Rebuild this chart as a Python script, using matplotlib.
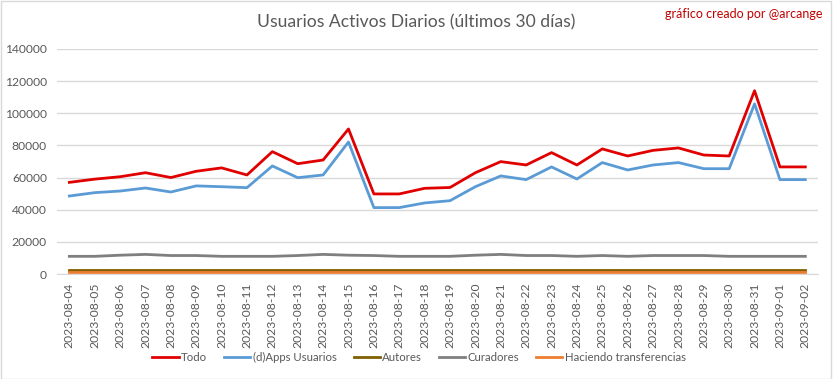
import matplotlib.pyplot as plt
import numpy as np

# Fechas del eje X (últimos 30 días)
fechas = ['2023-08-04', '2023-08-05', '2023-08-06', '2023-08-07', '2023-08-08',
          '2023-08-09', '2023-08-10', '2023-08-11', '2023-08-12', '2023-08-13',
          '2023-08-14', '2023-08-15', '2023-08-16', '2023-08-17', '2023-08-18',
          '2023-08-19', '2023-08-20', '2023-08-21', '2023-08-22', '2023-08-23',
          '2023-08-24', '2023-08-25', '2023-08-26', '2023-08-27', '2023-08-28',
          '2023-08-29', '2023-08-30', '2023-08-31', '2023-09-01', '2023-09-02']

todo = [57000, 59000, 60500, 63000, 60000, 63900, 66000, 61600, 76100, 68600,
        70900, 90200, 49800, 49800, 53300, 53800, 63000, 69900, 67800, 75500,
        67800, 77800, 73400, 76900, 78400, 74000, 73400, 114000, 66600, 66600]

apps = [48500, 50600, 51600, 53500, 51000, 54800, 54300, 53700, 67200, 59900,
        61600, 82100, 41300, 41300, 44200, 45600, 54300, 61000, 58700, 66600,
        59100, 69300, 64700, 67800, 69300, 65500, 65500, 105800, 58700, 58700]

autores = [2800] * 30

curadores = [11000, 11000, 11700, 12200, 11500, 11500, 11000, 11000, 11000, 11500,
             12200, 11700, 11500, 11000, 11000, 11000, 11700, 12200, 11500, 11500,
             11000, 11500, 11000, 11500, 11500, 11500, 11000, 11000, 11000, 11000]

transferencias = [1100] * 30

series = [
    ('Todo', todo, '#e00000'),
    ('(d)Apps Usuarios', apps, '#5b9bd5'),
    ('Autores', autores, '#7f6000'),
    ('Curadores', curadores, '#7f7f7f'),
    ('Haciendo transferencias', transferencias, '#ed7d31'),
]

plt.rcParams['font.family'] = ['Lato', 'DejaVu Sans']
gris = '#595959'

fig = plt.figure(figsize=(8.33, 3.79), dpi=100)
ax = fig.add_axes([0.068, 0.277, 0.914, 0.594])

x = np.arange(len(fechas))
for nombre, valores, color in series:
    ax.plot(x, valores, color=color, lw=2, label=nombre)

ax.set_xlim(-0.5, len(fechas) - 0.5)
ax.set_ylim(0, 140000)
ax.set_yticks(np.arange(0, 140001, 20000))
ax.set_yticklabels([str(v) for v in range(0, 140001, 20000)])
ax.set_xticks(x)
ax.set_xticklabels(fechas, rotation=90)
ax.tick_params(axis='both', length=0, labelsize=8.7, colors=gris)
ax.tick_params(axis='y', pad=7)
ax.tick_params(axis='x', pad=6)
ax.grid(axis='y', color='#d9d9d9', lw=1)
ax.set_axisbelow(True)
for lado in ['top', 'right', 'left']:
    ax.spines[lado].set_visible(False)
ax.spines['bottom'].set_color('#d9d9d9')

fig.text(0.5, 0.942, 'Usuarios Activos Diarios (últimos 30 días)', ha='center', va='center',
         fontsize=12.6, color=gris)
fig.text(0.987, 0.962, 'gráfico creado por @arcange', ha='right', va='center',
         fontsize=9, color='#c00000')

fig.legend(loc='center', bbox_to_anchor=(0.503, 0.058), ncol=5, frameon=False,
           fontsize=8.2, labelcolor=gris, handlelength=2.3, handletextpad=0.2,
           columnspacing=1.5)

# Borde del gráfico
fig.patches.append(plt.Rectangle((0.001, 0.001), 0.997, 0.997, transform=fig.transFigure,
                                 fill=False, edgecolor='#d9d9d9', lw=1))

fig.savefig('out.png', dpi=100)
